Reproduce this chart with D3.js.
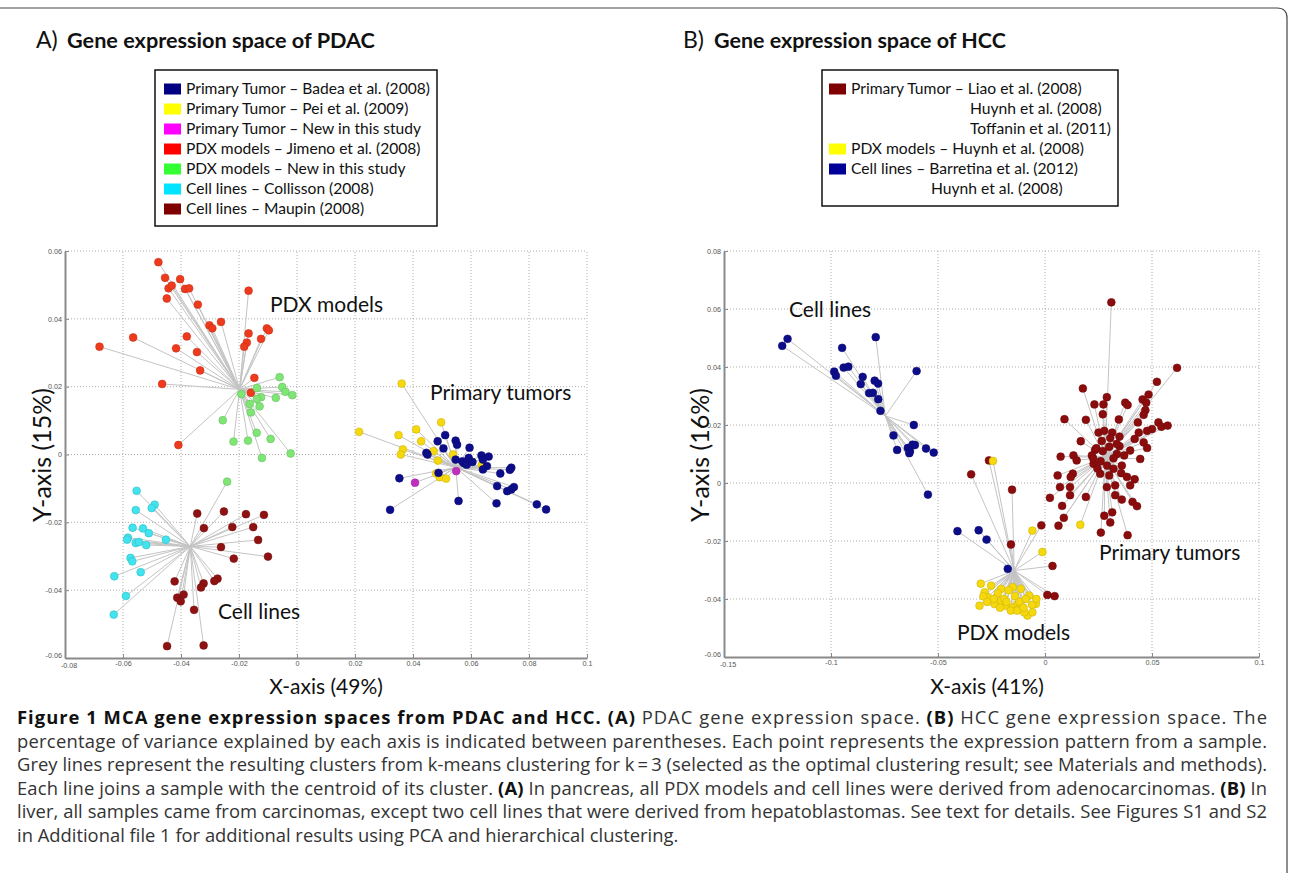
<!DOCTYPE html>
<html>
<head>
<meta charset="utf-8">
<script src="https://cdn.jsdelivr.net/npm/d3@7/dist/d3.min.js"></script>
<style>
  body { margin: 0; background: #fff; }
  svg text { font-family: Lato, "Open Sans", sans-serif; }
</style>
</head>
<body>
<div id="chart"></div>
<script>
// ---------- data ----------
// PDAC panel (A)
const pdacXTicks = [-0.08, -0.06, -0.04, -0.02, 0, 0.02, 0.04, 0.06, 0.08, 0.1];
const pdacYTicks = [-0.06, -0.04, -0.02, 0, 0.02, 0.04, 0.06];
const pdacCentroidPdx = [-0.0198, 0.0192];
const pdacCentroidTumor = [0.0548, -0.0038];
const pdacCentroidCell = [-0.0368, -0.0271];

const pdacBadea = [[0.0511,0.0057],[0.0485,0.0039],[0.0547,0.0041],[0.0552,0.0029],[0.0505,0.0018],[0.0446,0.0005],[0.045,0.0],[0.0595,0.002],[0.0547,-0.0015],[0.0575,-0.0025],[0.0592,-0.001],[0.0636,-0.0003],[0.0661,-0.0006],[0.0641,-0.0015],[0.0655,-0.0034],[0.0641,-0.0044],[0.0488,-0.0054],[0.0353,-0.007],[0.0739,-0.0039],[0.0734,-0.0045],[0.0701,-0.0056],[0.069,-0.0093],[0.0748,-0.0096],[0.0739,-0.0103],[0.0725,-0.0108],[0.0557,-0.0137],[0.0688,-0.0144],[0.0321,-0.0163],[0.0827,-0.0147],[0.0859,-0.0162],[0.057,-0.002],[0.0585,-0.003],[0.0605,-0.0022]];
const pdacPei = [[0.0214,0.0067],[0.035,0.0057],[0.0411,0.0074],[0.0497,0.0095],[0.0428,0.0039],[0.0365,0.0015],[0.0358,0.0],[0.0471,0.001],[0.0538,0.0],[0.0486,-0.0018],[0.048,-0.0056],[0.0492,-0.0067],[0.0514,-0.0071],[0.0637,-0.0031],[0.0361,0.0209]];
const pdacTumorNew = [[0.0407,-0.0083],[0.0549,-0.0049]];
const pdacJimeno = [[-0.0478,0.0567],[-0.0455,0.0521],[-0.0443,0.049],[-0.0432,0.0498],[-0.0403,0.0517],[-0.0386,0.0488],[-0.0372,0.049],[-0.0449,0.046],[-0.0342,0.0442],[-0.0262,0.0391],[-0.0302,0.0381],[-0.0292,0.0372],[-0.0167,0.0483],[-0.0167,0.0357],[-0.0173,0.033],[-0.0182,0.0318],[-0.0124,0.0341],[-0.0104,0.0372],[-0.0097,0.0366],[-0.0565,0.0345],[-0.0681,0.0318],[-0.038,0.0348],[-0.0417,0.0313],[-0.0345,0.0302],[-0.0334,0.0248],[-0.0465,0.0208],[-0.0147,0.0226],[-0.0159,0.0182],[-0.0409,0.0028]];
const pdacPdxNew = [[-0.006,0.0228],[-0.0138,0.0196],[-0.0051,0.0199],[-0.004,0.0185],[-0.0016,0.0175],[-0.0073,0.0167],[-0.0124,0.0169],[-0.0138,0.0164],[-0.0192,0.0178],[-0.0163,0.0149],[-0.0129,0.0142],[-0.0159,0.0124],[-0.0256,0.0101],[-0.0139,0.0064],[-0.0091,0.0046],[-0.0219,0.0038],[-0.0169,0.0041],[-0.0022,0.0003],[-0.0121,-0.001]];
const pdacPdxNewInCellCluster = [[-0.0241,-0.008]];
const pdacCollisson = [[-0.0553,-0.0107],[-0.0556,-0.0164],[-0.0491,-0.0148],[-0.0501,-0.0158],[-0.0567,-0.0216],[-0.0531,-0.0218],[-0.0511,-0.0232],[-0.0583,-0.0245],[-0.0586,-0.0251],[-0.0556,-0.0261],[-0.0545,-0.0258],[-0.052,-0.0267],[-0.0452,-0.0251],[-0.0574,-0.0305],[-0.0568,-0.0315],[-0.0539,-0.0347],[-0.063,-0.0359],[-0.059,-0.0417],[-0.0632,-0.0472]];
const pdacMaupin = [[-0.0344,-0.0174],[-0.0252,-0.0168],[-0.0176,-0.0176],[-0.0114,-0.0178],[-0.0321,-0.0217],[-0.0223,-0.0214],[-0.0151,-0.0214],[-0.0134,-0.0252],[-0.0262,-0.0273],[-0.0218,-0.0307],[-0.01,-0.0301],[-0.0422,-0.0374],[-0.0274,-0.0366],[-0.0285,-0.0373],[-0.0322,-0.038],[-0.0331,-0.0392],[-0.0391,-0.0413],[-0.0413,-0.0422],[-0.0401,-0.0433],[-0.0355,-0.0458],[-0.0448,-0.0565],[-0.0322,-0.0563]];

const pdacLegendLabels = [
  "Primary Tumor \u2013 Badea et al. (2008)",
  "Primary Tumor \u2013 Pei et al. (2009)",
  "Primary Tumor \u2013 New in this study",
  "PDX models \u2013 Jimeno et al. (2008)",
  "PDX models \u2013 New in this study",
  "Cell lines \u2013 Collisson (2008)",
  "Cell lines \u2013 Maupin (2008)"
];

// HCC panel (B)
const hccXTicks = [-0.15, -0.1, -0.05, 0, 0.05, 0.1];
const hccYTicks = [-0.06, -0.04, -0.02, 0, 0.02, 0.04, 0.06, 0.08];
const hccCentroidCell = [-0.0746, 0.0231];
const hccCentroidPdx = [-0.0144, -0.0302];
const hccCentroidTumor = [0.0281, 0.0089];

const hccCellLines = [[-0.1228,0.0473],[-0.1203,0.0497],[-0.0948,0.0466],[-0.0791,0.0503],[-0.0985,0.0384],[-0.0977,0.037],[-0.0941,0.0398],[-0.0919,0.0401],[-0.0852,0.0366],[-0.0861,0.0341],[-0.0796,0.0353],[-0.078,0.0343],[-0.0822,0.031],[-0.0804,0.0311],[-0.0779,0.0289],[-0.06,0.0386],[-0.0769,0.0249],[-0.0613,0.02],[-0.0708,0.0164],[-0.0691,0.0114],[-0.0641,0.0121],[-0.0619,0.0132],[-0.0608,0.0131],[-0.0631,0.011],[-0.0634,0.0103],[-0.0556,0.0119],[-0.052,0.0105],[-0.0547,-0.004]];
const hccCellLinesInPdxCluster = [[-0.0409,-0.0166],[-0.031,-0.0163],[-0.0273,-0.0195],[-0.0174,-0.0296]];
const hccPdx = [[-0.0243,0.0076],[-0.0059,-0.0164],[-0.0012,-0.0238],[-0.0282,-0.0377],[-0.0267,-0.0394],[-0.0236,-0.0417],[-0.0205,-0.0406],[-0.0182,-0.0423],[-0.0151,-0.0429],[-0.0128,-0.0417],[-0.0113,-0.0429],[-0.0082,-0.0457],[-0.0059,-0.0446],[-0.0043,-0.0417],[-0.0074,-0.0388],[-0.0113,-0.0365],[-0.0151,-0.0359],[-0.0205,-0.0365],[-0.0252,-0.0354],[-0.0097,-0.0446],[-0.03,-0.0347],[-0.0288,-0.0391],[-0.0306,-0.0423],[-0.022,-0.038],[-0.019,-0.04],[-0.017,-0.037],[-0.014,-0.039],[-0.012,-0.041],[-0.009,-0.04],[-0.006,-0.042],[-0.016,-0.044],[-0.021,-0.043],[-0.024,-0.04],[-0.018,-0.041],[-0.013,-0.044],[-0.01,-0.043],[-0.027,-0.041],[-0.004,-0.04]];
const hccPdxInTumorCluster = [[0.0165,-0.0144]];
const hccTumorInPdxCluster = [[-0.0345,0.003],[-0.0262,0.0078],[-0.0154,-0.0023],[-0.0159,-0.0212],[-0.0017,-0.0146],[0.0035,-0.0286],[0.0011,-0.0386],[0.0045,-0.039]];
const hccTumor = [[0.031,0.0623],[0.0617,0.0397],[0.0523,0.0349],[0.0177,0.0326],[0.0289,0.0296],[0.0231,0.0271],[0.0273,0.0271],[0.0375,0.0277],[0.0386,0.0269],[0.0456,0.0288],[0.0484,0.0305],[0.0473,0.0277],[0.0469,0.0251],[0.0461,0.0235],[0.027,0.0237],[0.0091,0.022],[0.0191,0.0218],[0.0345,0.0219],[0.0434,0.0209],[0.053,0.0209],[0.0544,0.0194],[0.0573,0.0198],[0.05,0.0186],[0.0477,0.018],[0.0438,0.0174],[0.025,0.0174],[0.0277,0.018],[0.0314,0.0174],[0.0348,0.016],[0.0167,0.0144],[0.0419,0.0152],[0.0461,0.014],[0.0477,0.0121],[0.0348,0.0127],[0.0398,0.0112],[0.0445,0.0083],[0.0336,0.01],[0.0234,0.0114],[0.0219,0.0095],[0.0133,0.0095],[0.0073,0.0091],[0.0148,0.0078],[0.0227,0.0066],[0.0359,0.006],[0.032,0.0049],[0.0356,0.0034],[0.0383,0.0021],[0.0419,0.0013],[0.0398,-0.0008],[0.0258,0.0032],[0.03,0.0026],[0.013,0.0032],[0.012,0.0021],[0.0059,0.0026],[0.007,-0.0014],[0.0117,-0.0014],[0.0023,-0.0051],[0.0117,-0.0042],[0.0191,-0.0048],[0.0289,-0.0014],[0.0328,-0.0008],[0.0328,-0.0042],[0.0359,-0.0057],[0.0409,-0.0065],[0.043,-0.008],[0.008,-0.0079],[0.0088,-0.012],[0.0063,-0.0147],[0.0277,-0.0113],[0.0314,-0.0101],[0.0305,-0.0136],[0.0261,-0.0171],[0.0386,-0.018],[0.024,0.012],[0.027,0.011],[0.03,0.0125],[0.032,0.0085],[0.026,0.0075],[0.029,0.006],[0.0225,0.0085],[0.0335,0.0135],[0.0265,0.0145],[0.0305,0.0155],[0.0245,0.005],[0.037,0.0095]];

const hccLegendLabels = [
  "Primary Tumor \u2013 Liao et al. (2008)",
  "Huynh et al. (2008)",
  "Toffanin et al. (2011)",
  "PDX models \u2013 Huynh et al. (2008)",
  "Cell lines \u2013 Barretina et al. (2012)",
  "Huynh et al. (2008)"
];

const captionLines = [
  [["Figure 1 MCA gene expression spaces from PDAC and HCC. ", true], ["(A)", true], [" PDAC gene expression space. ", false], ["(B)", true], [" HCC gene expression space. The", false]],
  [["percentage of variance explained by each axis is indicated between parentheses. Each point represents the expression pattern from a sample.", false]],
  [["Grey lines represent the resulting clusters from k-means clustering for k\u2009=\u20093 (selected as the optimal clustering result; see Materials and methods).", false]],
  [["Each line joins a sample with the centroid of its cluster. ", false], ["(A)", true], [" In pancreas, all PDX models and cell lines were derived from adenocarcinomas. ", false], ["(B)", true], [" In", false]],
  [["liver, all samples came from carcinomas, except two cell lines that were derived from hepatoblastomas. See text for details. See Figures S1 and S2", false]],
  [["in Additional file 1 for additional results using PCA and hierarchical clustering.", false]]
];

// ---------- drawing ----------
const W = 1290, H = 873;
const svg = d3.select("#chart").append("svg").attr("width", W).attr("height", H);

// scale a text's font so that it spans the wanted width
function fitWidth(sel, width) {
  const base = parseFloat(sel.style("font-size"));
  const len = sel.node().getComputedTextLength();
  const size = base * width / len;
  sel.style("font-size", size + "px");
  return size;
}

// figure frame
svg.append("path")
  .attr("d", "M-2,8 H1277 Q1287,8 1287,18 V880")
  .attr("fill", "none").attr("stroke", "#444").attr("stroke-width", 1.2);

const fmtTick = d => d === 0 ? "0" : String(+d.toFixed(2));

function drawPanel(cfg) {
  const g = svg.append("g").attr("class", "panel");
  const x = d3.scaleLinear().domain(cfg.xDomain).range(cfg.xRange);
  const y = d3.scaleLinear().domain(cfg.yDomain).range(cfg.yRange);

  // dotted grid
  g.selectAll(".vgrid").data(cfg.xTicks.slice(1)).join("line")
    .attr("x1", d => x(d)).attr("x2", d => x(d))
    .attr("y1", cfg.yRange[0]).attr("y2", cfg.yRange[1])
    .attr("stroke", "#9a9a9a").attr("stroke-width", 0.8).attr("stroke-dasharray", "1,2");
  g.selectAll(".hgrid").data(cfg.yTicks.slice(1)).join("line")
    .attr("y1", d => y(d)).attr("y2", d => y(d))
    .attr("x1", cfg.xRange[0]).attr("x2", cfg.xRange[1])
    .attr("stroke", "#9a9a9a").attr("stroke-width", 0.8).attr("stroke-dasharray", "1,2");

  // cluster lines (sample -> centroid)
  cfg.series.forEach(s => {
    g.append("g").selectAll("line").data(s.points).join("line")
      .attr("x1", d => x(d[0])).attr("y1", d => y(d[1]))
      .attr("x2", x(s.centroid[0])).attr("y2", y(s.centroid[1]))
      .attr("stroke", "#c4c4c4").attr("stroke-width", 1);
  });

  // markers
  cfg.series.forEach(s => {
    g.append("g").selectAll("circle").data(s.points).join("circle")
      .attr("cx", d => x(d[0])).attr("cy", d => y(d[1]))
      .attr("r", 3.9)
      .attr("fill", s.color)
      .attr("stroke", d3.color(s.color).darker(0.5))
      .attr("stroke-width", 0.6);
  });

  // axes
  const xAxis = d3.axisBottom(x).tickValues(cfg.xTicks).tickFormat(fmtTick)
    .tickSizeInner(-4).tickSizeOuter(0).tickPadding(3);
  const yAxis = d3.axisLeft(y).tickValues(cfg.yTicks).tickFormat(fmtTick)
    .tickSizeInner(-4).tickSizeOuter(0).tickPadding(3);
  const gx = g.append("g").attr("transform", "translate(0," + cfg.yRange[0] + ")").call(xAxis);
  const gy = g.append("g").attr("transform", "translate(" + cfg.xRange[0] + ",0)").call(yAxis);
  [gx, gy].forEach(a => {
    a.select(".domain").attr("stroke", "#8a8a8a").attr("stroke-width", 2);
    a.selectAll(".tick line").attr("stroke", "#8a8a8a");
    a.selectAll(".tick text").attr("fill", "#555").style("font-family", "Arial, 'Liberation Sans', sans-serif").style("font-size", "7.2px");
  });
  // keep the two corner labels apart
  gy.selectAll(".tick text").filter(d => d === cfg.yTicks[0]).attr("dy", "-0.1em");
  gx.selectAll(".tick text").filter(d => d === cfg.xTicks[0]).attr("dy", "1em").attr("dx", "0.5em");

  // axis titles
  g.append("text").attr("x", cfg.xTitlePos[0]).attr("y", cfg.xTitlePos[1])
    .attr("text-anchor", "middle").style("font-size", "21px").attr("fill", "#111").text(cfg.xTitle);
  g.append("text").attr("transform", "translate(" + cfg.yTitlePos[0] + "," + cfg.yTitlePos[1] + ") rotate(-90)")
    .attr("text-anchor", "middle").style("font-size", "25px").attr("fill", "#111").text(cfg.yTitle);

  // cluster annotations
  g.selectAll(".annot").data(cfg.annotations).join("text")
    .attr("x", d => d.pos[0]).attr("y", d => d.pos[1])
    .style("font-size", "21px").attr("fill", "#111").text(d => d.text);

  // panel title
  g.append("text").attr("x", cfg.letterX).attr("y", 48).attr("fill", "#111")
    .style("font-size", "23px").text(cfg.letter);
  const t = g.append("text").attr("x", cfg.titleX).attr("y", 48).attr("fill", "#111")
    .style("font-size", "19px").style("font-weight", "bold").text(cfg.title);
  fitWidth(t, cfg.titleWidth);
}

drawPanel({
  xDomain: [-0.08, 0.1], xRange: [65, 587],
  yDomain: [-0.06, 0.06], yRange: [658, 251],
  xTicks: pdacXTicks, yTicks: pdacYTicks,
  series: [
    { points: pdacJimeno, color: "#ee3b1d", centroid: pdacCentroidPdx },
    { points: pdacPdxNew, color: "#7fe676", centroid: pdacCentroidPdx },
    { points: pdacPdxNewInCellCluster, color: "#7fe676", centroid: pdacCentroidCell },
    { points: pdacCollisson, color: "#40e3ee", centroid: pdacCentroidCell },
    { points: pdacMaupin, color: "#8e1212", centroid: pdacCentroidCell },
    { points: pdacPei, color: "#f6d80e", centroid: pdacCentroidTumor },
    { points: pdacBadea, color: "#0d0d8a", centroid: pdacCentroidTumor },
    { points: pdacTumorNew, color: "#c030c0", centroid: pdacCentroidTumor }
  ],
  xTitle: "X-axis (49%)", xTitlePos: [326, 694],
  yTitle: "Y-axis (15%)", yTitlePos: [51, 455],
  annotations: [
    { text: "PDX models", pos: [270, 312] },
    { text: "Primary tumors", pos: [430, 400] },
    { text: "Cell lines", pos: [218, 619] }
  ],
  letter: "A)", letterX: 36, title: "Gene expression space of PDAC", titleX: 67, titleWidth: 308
});

drawPanel({
  xDomain: [-0.15, 0.1], xRange: [724, 1259],
  yDomain: [-0.06, 0.08], yRange: [657, 251],
  xTicks: hccXTicks, yTicks: hccYTicks,
  series: [
    { points: hccCellLines, color: "#0d0d8a", centroid: hccCentroidCell },
    { points: hccTumor, color: "#8b0c0c", centroid: hccCentroidTumor },
    { points: hccTumorInPdxCluster, color: "#8b0c0c", centroid: hccCentroidPdx },
    { points: hccPdx, color: "#f6d80e", centroid: hccCentroidPdx },
    { points: hccPdxInTumorCluster, color: "#f6d80e", centroid: hccCentroidTumor },
    { points: hccCellLinesInPdxCluster, color: "#0d0d8a", centroid: hccCentroidPdx }
  ],
  xTitle: "X-axis (41%)", xTitlePos: [987, 694],
  yTitle: "Y-axis (16%)", yTitlePos: [709, 455],
  annotations: [
    { text: "Cell lines", pos: [789, 317] },
    { text: "Primary tumors", pos: [1099, 560] },
    { text: "PDX models", pos: [957, 640] }
  ],
  letter: "B)", letterX: 683, title: "Gene expression space of HCC", titleX: 714, titleWidth: 292
});

// ---------- legends ----------
const pdacLegendColors = ["#000080", "#ffff00", "#ff00ff", "#ff0000", "#33ff33", "#00e5ff", "#7f0000"];
const legA = svg.append("g");
legA.append("rect").attr("x", 155).attr("y", 70).attr("width", 282).attr("height", 156)
  .attr("fill", "#fff").attr("stroke", "#111").attr("stroke-width", 1.5);
let legSizeA = 14;
pdacLegendLabels.forEach((lab, i) => {
  const cy = 89 + i * 20;
  legA.append("rect").attr("x", 164).attr("y", cy - 5.5).attr("width", 17).attr("height", 11).attr("fill", pdacLegendColors[i]);
  const t = legA.append("text").attr("x", 186).attr("y", cy + 5).style("font-size", legSizeA + "px").attr("fill", "#111").text(lab);
  if (i === 0) legSizeA = fitWidth(t, 244);
});

const hccLegendColors = ["#7f0000", null, null, "#ffff00", "#000099", null];
const hccLegendIndent = [851, 970, 970, 851, 851, 931];
const legB = svg.append("g");
legB.append("rect").attr("x", 822).attr("y", 70).attr("width", 296).attr("height", 136)
  .attr("fill", "#fff").attr("stroke", "#111").attr("stroke-width", 1.5);
let legSizeB = 14;
hccLegendLabels.forEach((lab, i) => {
  const cy = 89 + i * 20;
  if (hccLegendColors[i]) {
    legB.append("rect").attr("x", 829).attr("y", cy - 5.5).attr("width", 17).attr("height", 11).attr("fill", hccLegendColors[i]);
  }
  const t = legB.append("text").attr("x", hccLegendIndent[i]).attr("y", cy + 5).style("font-size", legSizeB + "px").attr("fill", "#111").text(lab);
  if (i === 0) legSizeB = fitWidth(t, 231);
});

// ---------- caption ----------
const cap = svg.append("g");
const capTexts = captionLines.map((parts, i) => {
  const t = cap.append("text").attr("x", 17).attr("y", 724 + i * 23.6)
    .style("font-family", "'Open Sans', sans-serif").style("font-size", "16px").attr("fill", "#333");
  parts.forEach(p => {
    t.append("tspan").style("font-weight", p[1] ? "bold" : "normal").attr("fill", p[1] ? "#111" : "#333").text(p[0]);
  });
  return t;
});
// the longest line sets the font size, all but the last line are justified
const capSize = fitWidth(capTexts[2], 1244);
capTexts.forEach((t, i) => {
  t.style("font-size", capSize + "px");
  if (i < capTexts.length - 1) t.attr("textLength", 1250).attr("lengthAdjust", "spacing");
});
</script>
</body>
</html>
